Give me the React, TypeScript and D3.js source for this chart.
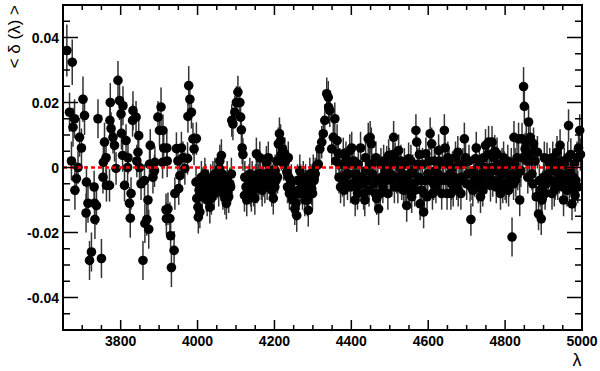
import React from 'react';
import * as d3 from 'd3';

// [lambda, delta, sigma]
const blueEnd: [number, number, number][] = [
  [3660,0.036,0.008],[3667,0.017,0.006],[3672,0.002,0.006],[3674,0.0324,0.007],[3676,0.0124,0.006],[3680,0.015,0.006],[3681,-0.007,0.006],[3685,-0.0034,0.005],[3689,0.0,0.005],[3693,0.0093,0.006],[3698,0.006,0.006],[3702,0.021,0.007],[3706,0.016,0.006],[3710,-0.014,0.006],[3711,-0.0045,0.005],[3715,-0.011,0.006],[3719,-0.0286,0.006],[3724,-0.026,0.006],[3731,-0.006,0.005],[3732,-0.011,0.006],[3733,-0.016,0.006],[3737,-0.0117,0.006],[3741,0.015,0.006],[3750,-0.028,0.006],[3754,-0.003,0.005],[3755,0.0016,0.005],[3758,0.0078,0.006],[3762,0.003,0.005],[3763,-0.0055,0.005],[3771,-0.0055,0.005],[3772,0.0145,0.006],[3773,0.020,0.006],[3775,0.012,0.005],[3780,0.0093,0.005],[3784,0.0068,0.005],[3788,-0.0003,0.005],[3793,0.0268,0.006],[3797,0.0206,0.006],[3801,0.0165,0.005],[3802,0.0105,0.005],[3805,0.0037,0.005],[3806,0.019,0.006],[3810,-0.0055,0.005],[3814,0.0083,0.005],[3818,0.0,0.005],[3819,0.003,0.005],[3823,-0.011,0.005],[3825,-0.0156,0.006],[3827,-0.008,0.005],[3831,0.0145,0.005],[3832,0.0175,0.006],[3840,0.0155,0.005],[3842,0.002,0.005],[3845,0.0047,0.005],[3847,0.0098,0.005],[3849,0.0,0.005],
];

const caHK: [number, number, number][] = [
  [3853,-0.005,0.005],[3858,-0.0286,0.006],[3862,-0.004,0.005],[3863,-0.0172,0.006],[3868,-0.016,0.005],[3871,-0.010,0.005],[3873,-0.019,0.006],[3875,0.001,0.005],[3877,0.0068,0.005],[3884,-0.003,0.005],[3888,-0.001,0.005],[3889,0.0016,0.005],[3897,0.0155,0.005],[3901,0.0114,0.005],[3905,0.0186,0.006],[3909,0.0016,0.005],[3910,0.0114,0.005],[3912,0.006,0.005],[3918,-0.013,0.005],[3919,-0.0157,0.005],[3920,0.006,0.005],[3921,0.002,0.005],[3923,-0.0127,0.005],[3928,-0.0157,0.005],[3930,-0.021,0.005],[3932,-0.0308,0.006],[3939,-0.0255,0.006],[3941,-0.008,0.005],[3945,0.0058,0.005],[3949,0.002,0.005],[3951,-0.0065,0.005],[3954,-0.0025,0.005],[3958,0.006,0.005],[3962,0.003,0.005],[3967,-0.0003,0.005],[3974,0.0028,0.005],[3975,0.0157,0.005],[3977,0.0252,0.006],[3980,0.021,0.005],[3984,0.017,0.005],[3988,0.0088,0.005],[3991,0.0057,0.005],[3996,-0.0045,0.005],[3997,0.0089,0.005],[3998,-0.0095,0.005],[4001,-0.0122,0.005],[4002,-0.0153,0.005],[4006,-0.0137,0.005],[4010,-0.003,0.005],[4014,-0.005,0.005],[4019,-0.002,0.005],[4023,-0.0086,0.005],[4027,-0.0055,0.005],[4032,-0.0122,0.005],[4036,-0.0095,0.005],[4040,-0.003,0.005],[4045,-0.002,0.005],
];

const hDelta: [number, number, number][] = [
  [4053,-0.0045,0.005],[4057,-0.0003,0.005],[4058,0.002,0.005],[4062,0.0037,0.005],[4066,-0.008,0.005],[4071,-0.0095,0.005],[4075,-0.011,0.005],[4079,-0.0076,0.005],[4084,-0.005,0.005],[4088,-0.002,0.005],[4089,0.0145,0.005],[4092,0.0134,0.005],[4097,0.017,0.005],[4101,0.020,0.005],[4105,0.0232,0.005],[4110,0.020,0.005],[4112,0.0155,0.005],[4114,0.0116,0.005],[4116,0.006,0.005],[4118,0.004,0.005],[4122,-0.0086,0.005],[4123,-0.003,0.005],[4131,-0.006,0.005],[4136,-0.002,0.005],[4140,-0.0086,0.005],[4144,-0.005,0.005],[4149,-0.0095,0.005],[4153,0.0042,0.005],[4157,-0.002,0.005],[4162,0.003,0.005],[4166,-0.005,0.005],[4170,-0.003,0.005],[4175,-0.006,0.005],[4179,0.0016,0.005],[4183,-0.002,0.005],[4184,0.003,0.005],[4187,-0.003,0.005],[4193,-0.007,0.005],[4197,-0.0095,0.005],[4201,-0.006,0.005],[4202,-0.001,0.005],[4210,0.0073,0.005],[4213,0.0104,0.005],[4216,0.0083,0.005],[4221,0.0057,0.005],[4227,0.0042,0.005],[4232,-0.0014,0.005],[4236,0.003,0.005],[4237,-0.003,0.005],[4242,-0.0055,0.005],[4247,-0.010,0.005],[4249,-0.009,0.005],
];

const hGamma: [number, number, number][] = [
  [4253,-0.0127,0.005],[4258,-0.0148,0.005],[4262,-0.007,0.005],[4266,-0.001,0.005],[4271,-0.005,0.005],[4275,-0.003,0.005],[4279,-0.010,0.005],[4284,-0.007,0.005],[4288,-0.0132,0.005],[4292,-0.002,0.005],[4297,-0.0066,0.005],[4301,-0.001,0.005],[4310,0.0006,0.005],[4314,0.001,0.005],[4318,0.0057,0.005],[4323,0.0078,0.005],[4327,0.0104,0.005],[4331,0.0145,0.005],[4336,0.0227,0.005],[4340,0.0216,0.005],[4341,0.0186,0.005],[4344,0.0175,0.005],[4349,0.0057,0.005],[4353,0.0093,0.005],[4357,0.015,0.005],[4363,0.0083,0.005],[4366,0.0042,0.005],[4370,0.001,0.005],[4375,-0.003,0.005],[4379,0.0042,0.005],[4383,0.001,0.005],[4388,-0.002,0.005],[4392,0.0016,0.005],[4396,0.0052,0.005],[4401,0.006,0.005],[4403,0.001,0.005],[4409,-0.0045,0.005],[4410,-0.010,0.005],[4414,-0.006,0.005],[4418,0.001,0.005],[4424,0.006,0.005],[4427,-0.003,0.005],[4432,-0.008,0.005],[4435,-0.010,0.005],[4438,-0.001,0.005],[4444,0.0088,0.005],[4448,0.001,0.005],[4449,0.0093,0.005],
];

const midBand: [number, number, number][] = [
  [4452,0.0073,0.005],[4453,0.001,0.005],[4458,-0.005,0.005],[4462,-0.008,0.005],[4466,-0.0096,0.005],[4471,-0.0127,0.005],[4475,-0.008,0.005],[4479,-0.003,0.005],[4484,0.002,0.005],[4488,-0.001,0.005],[4492,0.0016,0.005],[4497,0.0037,0.005],[4501,-0.002,0.005],[4510,0.0093,0.005],[4514,0.0027,0.005],[4518,-0.003,0.005],[4523,0.0052,0.005],[4527,0.0,0.005],[4531,-0.005,0.005],[4536,-0.007,0.005],[4540,-0.006,0.005],[4544,-0.0117,0.005],[4549,0.0027,0.005],[4553,-0.002,0.005],[4557,-0.009,0.005],[4562,-0.005,0.005],[4568,0.0114,0.005],[4570,0.0078,0.005],[4573,0.001,0.005],[4575,-0.003,0.005],[4579,-0.0112,0.005],[4583,-0.007,0.005],[4588,-0.0137,0.005],[4590,-0.008,0.005],[4594,0.0042,0.005],[4599,-0.002,0.005],[4605,0.0104,0.005],[4609,0.0073,0.005],[4614,-0.005,0.005],[4618,-0.001,0.005],[4622,-0.003,0.005],[4627,0.0052,0.005],[4629,0.002,0.005],[4635,-0.008,0.005],[4640,-0.003,0.005],[4642,0.0114,0.005],[4644,0.006,0.005],
];

const redEnd: [number, number, number][] = [
  [4651,0.003,0.005],[4657,-0.002,0.005],[4661,-0.005,0.005],[4665,-0.007,0.005],[4671,0.003,0.005],[4677,0.0047,0.005],[4678,-0.007,0.005],[4683,0.001,0.005],[4687,-0.003,0.005],[4694,0.0088,0.005],[4697,0.003,0.005],[4703,-0.002,0.005],[4709,-0.0055,0.005],[4711,-0.016,0.005],[4714,-0.005,0.005],[4718,-0.001,0.005],[4723,0.0027,0.005],[4727,-0.003,0.005],[4736,-0.009,0.005],[4740,-0.005,0.005],[4744,0.003,0.005],[4749,0.0068,0.005],[4757,0.0078,0.005],[4762,-0.0055,0.005],[4766,0.0078,0.005],[4770,0.003,0.005],[4775,-0.001,0.005],[4779,0.0042,0.005],[4788,-0.008,0.005],[4792,0.001,0.005],[4796,0.003,0.005],[4800,-0.005,0.005],[4805,-0.002,0.005],[4809,-0.007,0.005],[4813,-0.003,0.005],[4818,-0.0214,0.006],[4822,-0.005,0.005],[4823,0.0093,0.005],[4826,0.001,0.005],[4831,0.003,0.005],[4835,0.0088,0.005],[4838,-0.010,0.005],[4841,-0.001,0.005],[4844,0.0088,0.005],[4848,0.0249,0.006],[4850,0.0188,0.005],[4852,0.0057,0.005],[4857,0.002,0.005],[4861,0.014,0.005],[4865,0.0093,0.005],[4870,-0.002,0.005],[4874,0.0073,0.005],[4878,0.002,0.005],[4881,-0.009,0.005],[4884,0.0047,0.005],[4887,-0.0143,0.005],[4891,-0.007,0.005],[4894,-0.0158,0.005],[4896,-0.010,0.005],[4900,-0.003,0.005],[4904,-0.008,0.005],[4909,0.0027,0.005],[4916,0.001,0.005],[4922,-0.008,0.005],[4926,-0.001,0.005],[4930,-0.005,0.005],[4935,0.0047,0.005],[4939,0.001,0.005],[4943,0.0068,0.005],[4948,-0.002,0.005],[4952,-0.010,0.005],[4956,-0.005,0.005],[4961,-0.007,0.005],[4965,0.0129,0.005],[4969,-0.001,0.005],[4974,-0.0112,0.005],[4978,-0.003,0.005],[4982,-0.0086,0.005],[4987,0.003,0.005],[4991,0.006,0.005],[4994,0.0114,0.005],
];

// points hidden inside the dense band around zero
const bandFill: [number, number, number][] = [
  [4004,-0.007,0.005],[4012,-0.009,0.005],[4017,-0.006,0.005],[4021,-0.004,0.005],[4025,-0.010,0.005],[4030,-0.007,0.005],[4034,-0.004,0.005],[4038,-0.006,0.005],[4043,-0.008,0.005],[4048,-0.005,0.005],[4055,-0.007,0.005],[4060,-0.004,0.005],[4064,-0.002,0.005],[4068,-0.005,0.005],[4073,-0.006,0.005],[4077,-0.003,0.005],[4081,-0.009,0.005],[4086,-0.006,0.005],
  [4126,-0.006,0.005],[4128,-0.010,0.005],[4134,-0.004,0.005],[4138,-0.007,0.005],[4142,-0.003,0.005],[4146,-0.007,0.005],[4151,-0.004,0.005],[4155,-0.006,0.005],[4159,-0.004,0.005],[4164,-0.002,0.005],[4168,-0.007,0.005],[4172,-0.004,0.005],[4177,-0.002,0.005],[4181,-0.005,0.005],[4189,-0.005,0.005],[4191,-0.001,0.005],[4195,-0.004,0.005],[4199,-0.002,0.005],[4204,-0.004,0.005],[4206,0.002,0.005],[4208,-0.003,0.005],[4218,0.004,0.005],[4224,0.001,0.005],[4229,0.002,0.005],[4234,-0.006,0.005],[4239,-0.008,0.005],[4244,-0.004,0.005],
  [4251,-0.008,0.005],[4256,-0.011,0.005],[4260,-0.004,0.005],[4264,-0.008,0.005],[4268,-0.004,0.005],[4273,-0.008,0.005],[4277,-0.006,0.005],[4281,-0.004,0.005],[4286,-0.010,0.005],[4290,-0.006,0.005],[4295,-0.004,0.005],[4299,-0.008,0.005],[4303,-0.004,0.005],[4306,-0.002,0.005],
  [4360,0.002,0.005],[4368,-0.003,0.005],[4372,-0.006,0.005],[4377,-0.004,0.005],[4381,-0.007,0.005],[4386,0.003,0.005],[4390,-0.005,0.005],[4394,-0.002,0.005],[4398,-0.006,0.005],[4407,0.002,0.005],[4412,-0.002,0.005],[4416,-0.008,0.005],[4422,-0.004,0.005],[4430,-0.005,0.005],[4437,0.003,0.005],[4442,-0.004,0.005],[4446,-0.007,0.005],
  [4455,-0.002,0.005],[4464,0.003,0.005],[4469,-0.004,0.005],[4477,0.001,0.005],[4482,-0.006,0.005],[4490,-0.004,0.005],[4495,-0.008,0.005],[4499,0.001,0.005],[4505,-0.004,0.005],[4508,0.004,0.005],[4512,-0.006,0.005],[4516,0.001,0.005],[4521,-0.006,0.005],[4525,-0.003,0.005],[4529,0.002,0.005],[4534,-0.002,0.005],[4538,0.001,0.005],[4546,-0.004,0.005],[4551,-0.007,0.005],[4555,0.002,0.005],[4560,-0.001,0.005],[4565,-0.007,0.005],[4577,0.004,0.005],[4581,-0.004,0.005],[4585,0.001,0.005],[4592,-0.004,0.005],[4597,-0.009,0.005],[4602,0.002,0.005],[4607,-0.004,0.005],[4611,-0.008,0.005],[4616,0.002,0.005],[4620,-0.006,0.005],[4625,-0.002,0.005],[4632,-0.004,0.005],[4637,0.001,0.005],[4646,-0.004,0.005],[4649,-0.008,0.005],
  [4654,0.001,0.005],[4659,-0.008,0.005],[4663,0.0,0.005],[4668,-0.003,0.005],[4674,-0.005,0.005],[4680,-0.004,0.005],[4685,-0.008,0.005],[4690,0.001,0.005],[4700,-0.005,0.005],[4706,0.002,0.005],[4716,-0.007,0.005],[4721,-0.004,0.005],[4725,0.006,0.005],[4730,-0.006,0.005],[4733,0.001,0.005],[4738,-0.002,0.005],[4742,-0.007,0.005],[4747,0.0,0.005],[4752,-0.003,0.005],[4755,0.004,0.005],[4759,-0.002,0.005],[4764,0.0,0.005],[4768,-0.004,0.005],[4773,0.005,0.005],[4777,-0.006,0.005],[4782,0.001,0.005],[4785,-0.004,0.005],[4790,-0.002,0.005],[4794,-0.006,0.005],[4798,0.0,0.005],[4803,-0.006,0.005],[4807,0.002,0.005],[4811,-0.004,0.005],[4816,0.001,0.005],[4820,-0.002,0.005],[4828,-0.004,0.005],[4833,-0.002,0.005],
  [4846,0.003,0.005],[4855,0.008,0.005],[4859,-0.003,0.005],[4863,0.004,0.005],[4868,0.002,0.005],[4872,-0.005,0.005],[4876,0.005,0.005],[4889,-0.004,0.005],[4898,-0.006,0.005],[4902,0.003,0.005],[4907,-0.005,0.005],[4912,-0.002,0.005],[4919,-0.004,0.005],[4924,0.003,0.005],[4928,-0.007,0.005],[4933,0.0,0.005],[4937,-0.005,0.005],[4941,-0.003,0.005],[4946,0.002,0.005],[4950,-0.006,0.005],[4954,0.001,0.005],[4958,-0.003,0.005],[4963,0.003,0.005],[4967,-0.005,0.005],[4971,0.004,0.005],[4976,-0.007,0.005],[4980,0.001,0.005],[4984,-0.004,0.005],[4989,-0.006,0.005],[4996,0.004,0.005],
];

const points = [...blueEnd, ...caHK, ...hDelta, ...hGamma, ...midBand, ...redEnd, ...bandFill]
  .sort((a, b) => a[0] - b[0]);

const xMajor = [3800, 4000, 4200, 4400, 4600, 4800, 5000];
const yMajor = [-0.04, -0.02, 0, 0.02, 0.04];
const yLabels = ['-0.04', '-0.02', '0', '0.02', '0.04'];

const W = 600, H = 371;
const left = 63, right = 582, top = 5, bottom = 330;

export default function App() {
  const x = d3.scaleLinear().domain([3650, 5000]).range([left, right]);
  const y = d3.scaleLinear().domain([-0.05, 0.05]).range([bottom, top]);

  const xMinor = d3.range(3650, 5001, 50).filter(v => v % 200 !== 0);
  const yMinor = d3.range(-50, 51, 5).map(v => v / 1000).filter(v => Math.round(v * 1000) % 20 !== 0);

  const font = '"Liberation Sans", Arial, Helvetica, sans-serif';

  return (
    <svg width={W} height={H} style={{ position: 'absolute', left: 0, top: 0, background: '#fff' }}>
      {/* error bars */}
      <g stroke="#333" strokeWidth={1.5}>
        {points.map(([l, d, s], i) => (
          <line key={i} x1={x(l)} x2={x(l)} y1={Math.max(top, y(d + s))} y2={Math.min(bottom, y(d - s))} />
        ))}
      </g>
      {/* markers */}
      <g fill="#000">
        {points.map(([l, d], i) => (
          <circle key={i} cx={x(l)} cy={y(d)} r={4.8} />
        ))}
      </g>
      {/* zero line */}
      <line x1={left} x2={right} y1={y(0)} y2={y(0)} stroke="#f00" strokeWidth={2.5} strokeDasharray="4,3" />

      {/* frame */}
      <rect x={left} y={top} width={right - left} height={bottom - top} fill="none" stroke="#000" strokeWidth={2} />

      {/* ticks */}
      <g stroke="#000" strokeWidth={1.5}>
        {yMajor.map(v => (
          <g key={'ym' + v}>
            <line x1={left} x2={left + 15} y1={y(v)} y2={y(v)} />
            <line x1={right} x2={right - 15} y1={y(v)} y2={y(v)} />
          </g>
        ))}
        {yMinor.map(v => (
          <g key={'yn' + v}>
            <line x1={left} x2={left + 7} y1={y(v)} y2={y(v)} />
            <line x1={right} x2={right - 7} y1={y(v)} y2={y(v)} />
          </g>
        ))}
        {xMajor.map(v => (
          <g key={'xm' + v}>
            <line x1={x(v)} x2={x(v)} y1={bottom} y2={bottom - 10} />
            <line x1={x(v)} x2={x(v)} y1={top} y2={top + 10} />
          </g>
        ))}
        {xMinor.map(v => (
          <g key={'xn' + v}>
            <line x1={x(v)} x2={x(v)} y1={bottom} y2={bottom - 5} />
            <line x1={x(v)} x2={x(v)} y1={top} y2={top + 5} />
          </g>
        ))}
      </g>

      {/* tick labels */}
      <g fontFamily={font} fontWeight="bold" fontSize={14} fill="#000">
        {yMajor.map((v, i) => (
          <text key={'yl' + v} x={59} y={y(v) + 5} textAnchor="end">{yLabels[i]}</text>
        ))}
        {xMajor.map(v => (
          <text key={'xl' + v} x={x(v)} y={346} textAnchor="middle">{v}</text>
        ))}
      </g>

      {/* axis titles */}
      <text x={577} y={366} fontFamily={font} fontSize={18} textAnchor="middle">λ</text>
      <text transform="translate(20,5) rotate(-90)" fontFamily={font} fontSize={17} textAnchor="end">{'< δ (λ) >'}</text>
    </svg>
  );
}
